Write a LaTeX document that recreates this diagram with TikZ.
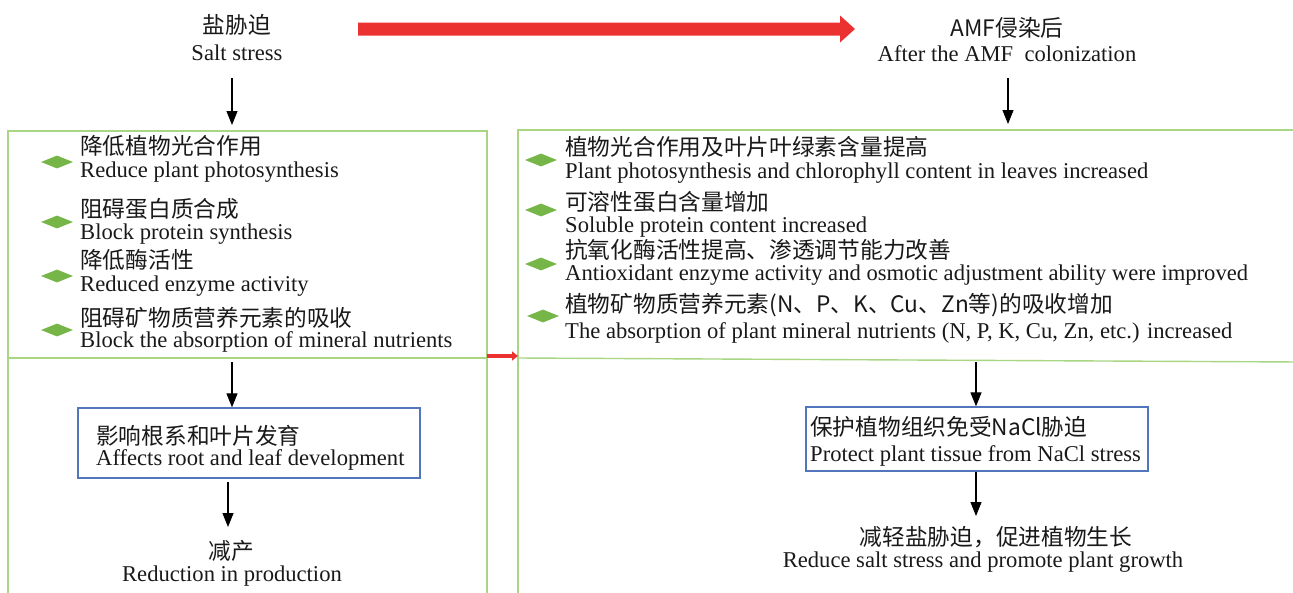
\documentclass[tikz,border=0pt]{standalone}
\usepackage{fontspec}
\setmainfont{Liberation Serif}
\newfontfamily\cjk{Noto Sans CJK SC}
\usetikzlibrary{shapes.geometric,arrows.meta}
\definecolor{boxgreen}{RGB}{168,214,130}
\definecolor{bulletgreen}{RGB}{118,182,72}
\definecolor{boxblue}{RGB}{82,118,190}
\definecolor{arrred}{RGB}{236,50,48}
\definecolor{txt}{RGB}{25,25,25}
\tikzset{
  en/.style={font=\fontsize{22.6}{26}\selectfont, text=txt, inner sep=0pt, text height=15.5pt, text depth=2.5pt},
  zh/.style={font=\cjk\fontsize{22.7}{26}\selectfont, text=txt, inner sep=0pt, text height=19.5pt, text depth=3.2pt},
  bullet/.style={diamond, fill=bulletgreen, minimum width=32pt, minimum height=13pt, inner sep=0pt},
  frame/.style={draw=boxgreen, line width=1.4pt},
  bluebox/.style={draw=boxblue, line width=1.3pt, fill=white},
  flow/.style={draw=black, line width=1.1pt, -{Triangle[length=14pt,width=11pt]}},
}
\begin{document}
\begin{tikzpicture}[x=1pt,y=-1pt]
\useasboundingbox (0,0) rectangle (1293,592);
% frames
\draw[frame] (487,600) -- (487,131) -- (8,131) -- (8,600);
\draw[frame] (8,358) -- (487,358);
\draw[frame] (1300,130) -- (518,130) -- (518,600);
\draw[frame] (518,358) -- (1300,362);
% titles
\node[zh] (t1zh) at (237,25) {盐胁迫};
\node[en] (t1en) at (237,54) {Salt stress};
\node[zh] (t2zh) at (1007,28) {AMF侵染后};
\node[en] (t2en) at (1007,55) {After the AMF\ \ colonization};
% big red arrow
\coordinate (ra1) at (358,29);
\coordinate (ra2) at (855,29);
\fill[arrred] (358,22.5) -- (840,22.5) -- (840,15.5) -- (855,29) -- (840,42.5) -- (840,35.5) -- (358,35.5) -- cycle;
% top arrows
\coordinate (a1s) at (232,78);
\coordinate (a1e) at (232,125);
\coordinate (a2s) at (1008,78);
\coordinate (a2e) at (1008,124);
\draw[flow] (a1s) -- (a1e);
\draw[flow] (a2s) -- (a2e);
% small red arrow
\coordinate (sr1) at (487,356);
\coordinate (sr2) at (518,356);
\draw[arrred, line width=4pt, -{Triangle[length=6pt,width=9pt]}] (sr1) -- (sr2);
% left bullets
\node[bullet] (lb1) at (57,162) {};
\node[bullet] (lb2) at (57,222) {};
\node[bullet] (lb3) at (57,276) {};
\node[bullet] (lb4) at (57,330) {};
\node[zh,anchor=west] (l1zh) at (80,146) {降低植物光合作用};
\node[en,anchor=west] (l1en) at (80,171) {Reduce plant photosynthesis};
\node[zh,anchor=west] (l2zh) at (80,209) {阻碍蛋白质合成};
\node[en,anchor=west] (l2en) at (80,233) {Block protein synthesis};
\node[zh,anchor=west] (l3zh) at (80,260) {降低酶活性};
\node[en,anchor=west] (l3en) at (80,285) {Reduced enzyme activity};
\node[zh,anchor=west] (l4zh) at (80,318) {阻碍矿物质营养元素的吸收};
\node[en,anchor=west] (l4en) at (80,341) {Block the absorption of mineral nutrients};
% right bullets
\node[bullet] (rb1) at (541,160) {};
\node[bullet] (rb2) at (541,210) {};
\node[bullet] (rb3) at (541,264) {};
\node[bullet] (rb4) at (543,316) {};
\node[zh,anchor=west] (r1zh) at (565,147) {植物光合作用及叶片叶绿素含量提高};
\node[en,anchor=west] (r1en) at (565,172) {Plant photosynthesis and chlorophyll content in leaves increased};
\node[zh,anchor=west] (r2zh) at (565,202) {可溶性蛋白含量增加};
\node[en,anchor=west] (r2en) at (565,226) {Soluble protein content increased};
\node[zh,anchor=west] (r3zh) at (565,250) {抗氧化酶活性提高、渗透调节能力改善};
\node[en,anchor=west] (r3en) at (565,274) {Antioxidant enzyme activity and osmotic adjustment ability were improved};
\node[zh,anchor=west] (r4zh) at (565,304) {植物矿物质营养元素(N、P、K、Cu、Zn等)的吸收增加};
\node[en,anchor=west] (r4en) at (565,332) {The absorption of plant mineral nutrients (N, P, K, Cu, Zn, etc.) increased};
% left lower
\node[bluebox, minimum width=342pt, minimum height=70pt] (lbox) at (249,443) {};
\node[zh,anchor=west] (lbzh) at (96,436) {影响根系和叶片发育};
\node[en,anchor=west] (lben) at (96,459) {Affects root and leaf development};
\coordinate (l5s) at (232,362);
\draw[flow] (l5s) -- (lbox.north -| l5s);
\coordinate (l6s) at (228,482);
\coordinate (l6e) at (228,527);
\draw[flow] (l6s) -- (l6e);
\node[zh] (lrzh) at (231,551) {减产};
\node[en] (lren) at (232,575) {Reduction in production};
% right lower
\node[bluebox, minimum width=342pt, minimum height=64pt] (rbox) at (977,439) {};
\node[zh,anchor=west] (rbzh) at (810,427) {保护植物组织免受NaCl胁迫};
\node[en,anchor=west] (rben) at (810,455) {Protect plant tissue from NaCl stress};
\coordinate (r5s) at (976,362);
\draw[flow] (r5s) -- (rbox.north -| r5s);
\draw[flow] (rbox.south -| r5s) -- (976,516);
\node[zh] (rrzh) at (996,537) {减轻盐胁迫，促进植物生长};
\node[en] (rren) at (983,561) {Reduce salt stress and promote plant growth};
\end{tikzpicture}
\end{document}
